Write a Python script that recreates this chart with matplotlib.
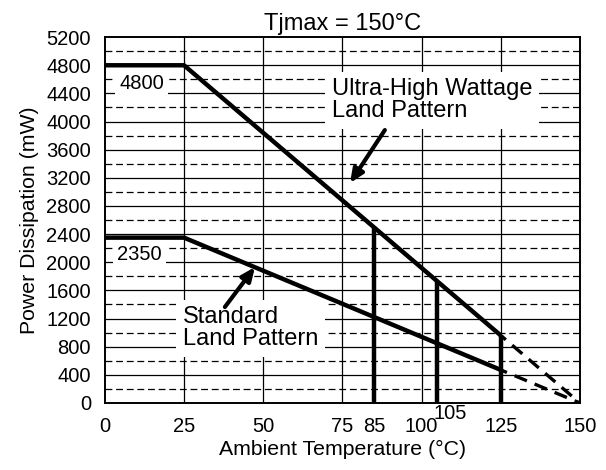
import matplotlib.pyplot as plt
import numpy as np

plt.rcParams['font.family'] = ['Liberation Sans', 'DejaVu Sans']

# derating curves (Ambient temp in C, power in mW)
uh_temp = [0, 25, 125]
uh_power = [4800, 4800, 960]
uh_ext_temp = [125, 150]
uh_ext_power = [960, 0]

std_temp = [0, 25, 125]
std_power = [2350, 2350, 470]
std_ext_temp = [125, 150]
std_ext_power = [470, 0]

# vertical markers
mark_temp = [85, 105, 125]
mark_power = [2496, 1728, 960]

xticks = [0, 25, 50, 75, 85, 100, 125, 150]
yticks = list(range(0, 5201, 400))

fig = plt.figure(figsize=(6.06, 4.70), dpi=100)
ax = fig.add_axes([0.173, 0.1426, 0.784, 0.7784])

# grid
for y in range(400, 5200, 400):
    ax.axhline(y, color='black', lw=0.9, zorder=1)
for y in range(200, 5200, 400):
    ax.axhline(y, color='black', lw=0.9, ls=(0, (5.5, 3)), zorder=1)
for x in [25, 50, 75, 100, 125]:
    ax.axvline(x, color='black', lw=0.9, zorder=1)

ax.plot(uh_temp, uh_power, color='black', lw=3.2, solid_capstyle='butt', zorder=3)
ax.plot(std_temp, std_power, color='black', lw=3.2, solid_capstyle='butt', zorder=3)
ax.plot(uh_ext_temp, uh_ext_power, color='black', lw=2.4, ls=(2, (4, 2.5)), zorder=3)
ax.plot(std_ext_temp, std_ext_power, color='black', lw=2.4, ls=(2, (4, 2.5)), zorder=3)
for t, p in zip(mark_temp, mark_power):
    ax.plot([t, t], [0, p], color='black', lw=3.2, solid_capstyle='butt', zorder=3)

box = dict(facecolor='white', edgecolor='none', pad=3)
ax.text(4.5, 4546, '4800', fontsize=14.5, va='center', ha='left', bbox=box, zorder=4)
ax.text(3.8, 2110, '2350', fontsize=14.5, va='center', ha='left', bbox=box, zorder=4)
ax.text(71.7, 4300, 'Ultra-High Wattage\nLand Pattern', fontsize=17, va='center',
        ha='left', linespacing=1.0, bbox=dict(facecolor='white', edgecolor='none', pad=5), zorder=4)
ax.text(24.6, 1060, 'Standard\nLand Pattern', fontsize=17, va='center',
        ha='left', linespacing=1.0, bbox=dict(facecolor='white', edgecolor='none', pad=5), zorder=4)

arrow = dict(arrowstyle='-|>,head_length=0.8,head_width=0.35', color='black', lw=3, shrinkA=0, shrinkB=0)
ax.annotate('', xy=(77.4, 3126), xytext=(88.4, 3879), arrowprops=arrow, zorder=5)
ax.annotate('', xy=(47.4, 1932), xytext=(37.9, 1364), arrowprops=arrow, zorder=5)

ax.set_xlim(0, 150)
ax.set_ylim(0, 5200)
ax.set_xticks(xticks)
ax.set_yticks(yticks)
ax.tick_params(length=0, labelsize=14.5)
ax.tick_params(axis='x', pad=10)
ax.tick_params(axis='y', pad=10)
# the 105 marker label sits a bit higher, right of its line
ax.annotate('105', xy=(109, 0), xytext=(0, -0.5), textcoords='offset points',
            fontsize=14.5, ha='center', va='top')
for s in ax.spines.values():
    s.set_linewidth(1.4)
    s.set_zorder(6)

ax.set_title('Tjmax = 150\u00b0C', fontsize=17, pad=5)
ax.set_xlabel('Ambient Temperature (\u00b0C)', fontsize=15.3, labelpad=3)
ax.set_ylabel('Power Dissipation (mW)', fontsize=15.3, labelpad=5)

fig.savefig('out.png', dpi=100)
